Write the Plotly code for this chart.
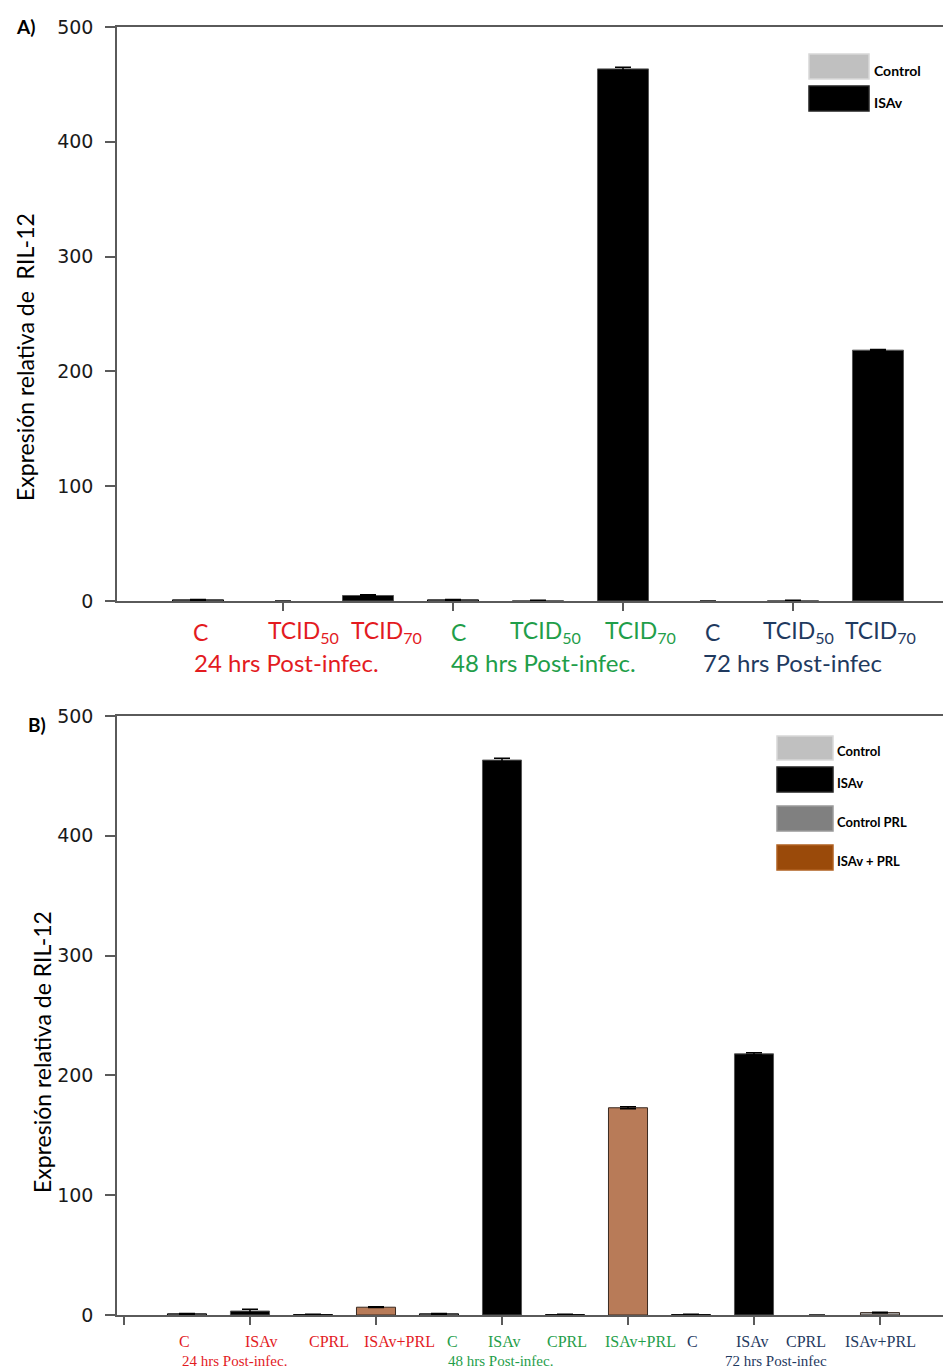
import plotly.graph_objects as go

W, H = 943, 1370

# ---------------- Panel A data ----------------
a_labels = ["C", "TCID<sub>50</sub>", "TCID<sub>70</sub>",
            "C", "TCID<sub>50</sub>", "TCID<sub>70</sub>",
            "C", "TCID<sub>50</sub>", "TCID<sub>70</sub>"]
a_groups = ["24 hrs Post-infec.", "48 hrs Post-infec.", "72 hrs Post-infec"]
a_control_idx = [0, 3, 6]
a_control_vals = [1.0, 1.0, 0.0]
a_control_err = [0.3, 0.3, 0.0]
a_isav_idx = [1, 2, 4, 5, 7, 8]
a_isav_vals = [0.0, 4.8, 0.2, 463.5, 0.2, 218.5]
a_isav_err = [0.0, 0.6, 0.5, 1.5, 0.5, 0.5]

# ---------------- Panel B data ----------------
b_labels = ["C", "ISAv", "CPRL", "ISAv+PRL",
            "C", "ISAv", "CPRL", "ISAv+PRL",
            "C", "ISAv", "CPRL", "ISAv+PRL"]
b_groups = ["24 hrs Post-infec.", "48 hrs Post-infec.", "72 hrs Post-infec"]
b_control_idx = [0, 4, 8]
b_control_vals = [1.0, 1.0, 0.3]
b_control_err = [0.3, 0.3, 0.4]
b_isav_idx = [1, 5, 9]
b_isav_vals = [3.3, 463.2, 218.0]
b_isav_err = [1.4, 1.5, 1.0]
b_cprl_idx = [2, 6, 10]
b_cprl_vals = [0.3, 0.3, 0.0]
b_cprl_err = [0.4, 0.4, 0.0]
b_isavprl_idx = [3, 7, 11]
b_isavprl_vals = [6.5, 173.0, 2.0]
b_isavprl_err = [0.3, 0.8, 0.3]

group_colors = ["#e31b1f", "#1f9e4a", "#1f3a5f"]

C_CONTROL = "#c0c0c0"
C_ISAV = "#000000"
C_CPRL = "#808080"
C_ISAVPRL_LEG = "#9a4a0a"
C_ISAVPRL_BAR = "#b87b58"

AXIS_COL = "#5a5a5a"


def px(x):
    return x / W


def py(y):
    return 1 - y / H


fig = go.Figure()


def add_bars(idx, vals, err, color, xa, ya, width, line_col="#333333"):
    line_w = [1 if v > 0 else 0 for v in vals]
    fig.add_trace(go.Bar(
        x=idx, y=vals, width=width, xaxis=xa, yaxis=ya,
        marker=dict(color=color, line=dict(color=line_col, width=line_w)),
        error_y=dict(type="data", array=err, visible=True, color="#000000",
                     thickness=1.5, width=8),
        showlegend=False, hoverinfo="skip"))


# Panel A
add_bars(a_control_idx, a_control_vals, a_control_err, C_CONTROL, "x", "y", 0.6, "#000000")
add_bars(a_isav_idx, a_isav_vals, a_isav_err, C_ISAV, "x", "y", 0.6, "#555555")

# Panel B
add_bars(b_control_idx, b_control_vals, b_control_err, C_CONTROL, "x2", "y2", 0.62, "#000000")
add_bars(b_isav_idx, b_isav_vals, b_isav_err, C_ISAV, "x2", "y2", 0.62, "#555555")
add_bars(b_cprl_idx, b_cprl_vals, b_cprl_err, C_CPRL, "x2", "y2", 0.62, "#000000")
add_bars(b_isavprl_idx, b_isavprl_vals, b_isavprl_err,
         [C_ISAVPRL_BAR, C_ISAVPRL_BAR, "#a8a8a8"], "x2", "y2", 0.62, "#3a2a20")

tickfont = dict(family="DejaVu Sans", size=19, color="#1a1a1a")

axis_common = dict(showline=True, linecolor=AXIS_COL, linewidth=1.5,
                   showgrid=False, zeroline=False, automargin=False)

fig.update_layout(
    template="none",
    width=W, height=H, autosize=False,
    margin=dict(l=0, r=0, t=0, b=0, pad=0),
    paper_bgcolor="white", plot_bgcolor="white",
    barmode="overlay", showlegend=False,
    xaxis=dict(domain=[px(117), 1.0], range=[-0.953, 8.765], anchor="y",
               tickmode="array", tickvals=[1, 3, 5, 7], ticks="outside",
               ticklen=8, tickwidth=1.5, tickcolor=AXIS_COL,
               showticklabels=False, mirror=True, **axis_common),
    yaxis=dict(domain=[py(601), py(27)], range=[0, 500], anchor="x",
               tickmode="array", tickvals=[0, 100, 200, 300, 400, 500],
               ticks="outside", ticklen=10, tickwidth=1.5, tickcolor=AXIS_COL,
               tickfont=tickfont, ticklabelstandoff=8, **axis_common),
    xaxis2=dict(domain=[px(117), 1.0], range=[-1.111, 12.0], anchor="y2",
                tickmode="array", tickvals=[-1, 1, 3, 5, 7, 9, 11], ticks="outside",
                ticklen=8, tickwidth=1.5, tickcolor=AXIS_COL,
                showticklabels=False, mirror=True, **axis_common),
    yaxis2=dict(domain=[py(1315), py(716)], range=[0, 500], anchor="x2",
                tickmode="array", tickvals=[0, 100, 200, 300, 400, 500],
                ticks="outside", ticklen=10, tickwidth=1.5, tickcolor=AXIS_COL,
                tickfont=tickfont, ticklabelstandoff=8, **axis_common),
)

ann = []
shapes = []


def text(x, y, s, size, color="#000000", family="Lato", xanchor="center",
         angle=0, weight="normal"):
    ann.append(dict(x=px(x), y=py(y), xref="paper", yref="paper", text=s,
                    showarrow=False, xanchor=xanchor, yanchor="middle",
                    textangle=angle,
                    font=dict(family=family, size=size, color=color, weight=weight)))


# Panel labels
text(14, 27, "A)", 19, xanchor="left", weight="bold")
text(26, 724, "B)", 19, xanchor="left", weight="bold")

# Y titles
text(25, 357, "Expresión relativa de  RIL-12", 23, angle=-90)
text(42, 1052, "Expresión relativa de RIL-12", 23, angle=-90)

# Panel A category labels
a_label_px = [200, 303, 386, 458, 545, 640, 712, 798, 880]
for i, (lab, xp) in enumerate(zip(a_labels, a_label_px)):
    text(xp, 632, lab, 23, color=group_colors[i // 3])
for g, (lab, xp) in enumerate(zip(a_groups, [192, 449, 701])):
    text(xp, 662, lab, 24, color=group_colors[g], xanchor="left")

# Panel B category labels
b_label_px = [184, 261, 329, 399, 452, 504, 567, 640, 692, 752, 806, 880]
for i, (lab, xp) in enumerate(zip(b_labels, b_label_px)):
    text(xp, 1341, lab, 16, color=group_colors[i // 4], family="Liberation Serif")
for g, (lab, xp) in enumerate(zip(b_groups, [180, 446, 723])):
    text(xp, 1361, lab, 15, color=group_colors[g], family="Liberation Serif",
         xanchor="left")


# Legends (drawn swatches + text)
def swatch(x0, y0, x1, y1, fill, line):
    shapes.append(dict(type="rect", xref="paper", yref="paper",
                       x0=px(x0), x1=px(x1), y0=py(y1), y1=py(y0),
                       fillcolor=fill, line=dict(color=line, width=1.5)))


legA = [("Control", C_CONTROL, "#d8d8d8", 54, 79),
        ("ISAv", C_ISAV, "#222222", 86, 111)]
for name, fill, line, y0, y1 in legA:
    swatch(809, y0, 869, y1, fill, line)
    text(872, (y0 + y1) / 2 + 4, name, 14, xanchor="left", weight="bold")

legB = [("Control", C_CONTROL, "#d8d8d8", 736, 760),
        ("ISAv", C_ISAV, "#222222", 767, 792),
        ("Control PRL", C_CPRL, "#999999", 806, 831),
        ("ISAv + PRL", C_ISAVPRL_LEG, "#b06020", 845, 870)]
for name, fill, line, y0, y1 in legB:
    swatch(777, y0, 833, y1, fill, line)
    text(835, (y0 + y1) / 2 + 3, name, 13, xanchor="left", weight="bold")

fig.update_layout(annotations=ann, shapes=shapes)

post = ("document.documentElement.style.margin='0';"
        "document.body.style.margin='0';document.body.style.padding='0';"
        "document.documentElement.style.overflow='hidden';"
        "document.body.style.overflow='hidden';")

fig.write_html("out.html", config=dict(displayModeBar=False), post_script=post)
